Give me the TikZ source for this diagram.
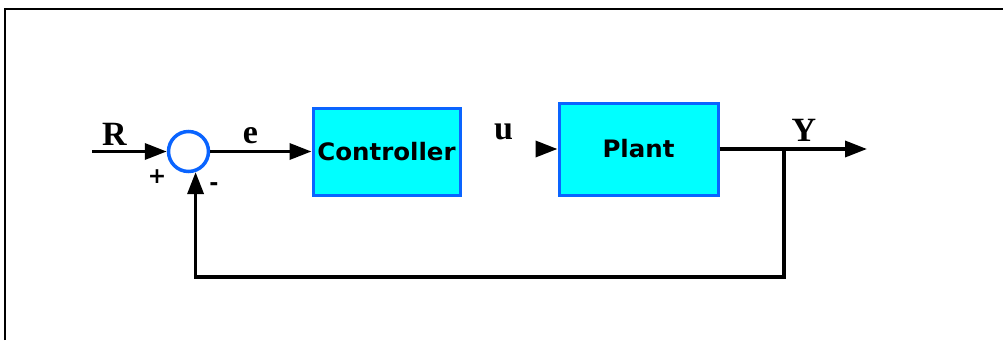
\documentclass[tikz,border=0pt]{standalone}
\usepackage{fontspec}
\setmainfont{Liberation Serif}
\newfontfamily\blockfont{DejaVu Sans}
\usetikzlibrary{arrows.meta}
\definecolor{blockfill}{HTML}{00FFFF}
\definecolor{blockedge}{HTML}{0A64FF}
\begin{document}
\begin{tikzpicture}[x=1pt,y=-1pt,
  sig/.style={line width=3.5pt},
  tip/.style={-{Triangle[length=22pt,width=16pt]}},
  block/.style={draw=blockedge,line width=3pt,fill=blockfill,inner sep=0pt,
    font=\blockfont\bfseries\fontsize{24}{24}\selectfont},
  sumjunction/.style={circle,draw=blockedge,line width=3.5pt,fill=white,
    minimum size=40pt,inner sep=0pt},
  lbl/.style={font=\bfseries\fontsize{34}{34}\selectfont,inner sep=0pt},
  sign/.style={font=\blockfont\bfseries\fontsize{22}{22}\selectfont,inner sep=0pt}]
\useasboundingbox (0,0) rectangle (1003,340);
\fill[white] (0,0) rectangle (1003,340);
% outer frame
\draw[line width=2.5pt] (5,340) -- (5,9) -- (1003,9);

% blocks
\node[sumjunction] (sum) at (188.5,151.5) {};
\node[block,minimum width=147pt,minimum height=87pt] (ctrl) at (386.5,151.5)
  {\scalebox{1.02}[1]{Controller}};
\node[block,minimum width=159pt,minimum height=92pt] (plant) at (638.5,149)
  {\scalebox{1.02}[1]{Plant}};

% signal points
\coordinate (rin) at (92,151.5);
\coordinate (uin) at (538,149);
\coordinate (yout) at (867,149);
\coordinate (branch) at (784,149);
\coordinate (fbcorner) at (784,277);
\coordinate (fbleft) at (sum.-71 |- fbcorner);

% connectors
\draw[sig,tip] (rin) -- (sum.west);
\draw[sig,tip] (sum.east) -- (ctrl.west);
\draw[sig,tip] (uin) -- (plant.west);
\draw[sig,tip] (plant.east) -- (yout);
\draw[sig,line join=miter] (branch) -- (fbcorner) -- (fbleft);
\draw[sig,tip,line join=miter] (fbcorner) -- (fbleft) -- (sum.-71);

% labels
\node[lbl] (lR) at (114.5,134.5) {R};
\node[lbl] (le) at (250.5,136) {e};
\node[lbl] (lu) at (503.5,132) {u};
\node[lbl] (lY) at (804,130.5) {Y};
\node[sign] (lplus) at (157,177) {+};
\node[sign] (lminus) at (214,187) {-};
\end{tikzpicture}
\end{document}
